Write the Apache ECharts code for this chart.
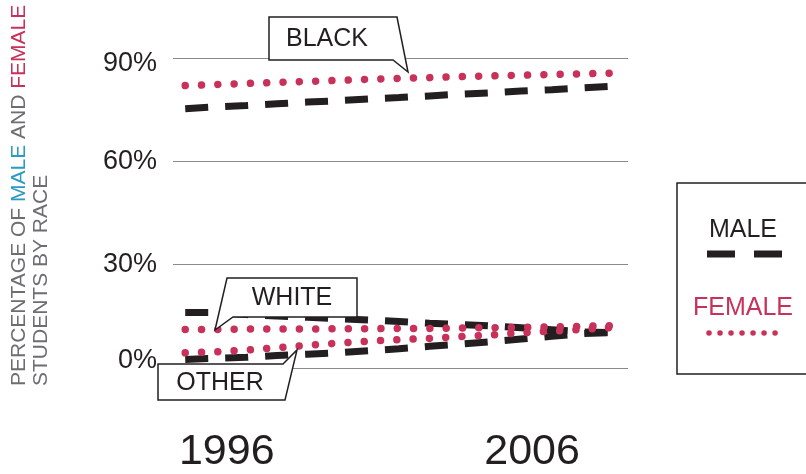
<!DOCTYPE html>
<html>
<head>
<meta charset="utf-8">
<script src="https://cdn.jsdelivr.net/npm/echarts@6/dist/echarts.min.js"></script>
<style>
html,body{margin:0;padding:0;background:#fff;}
#chart{width:806px;height:474px;}
</style>
</head>
<body>
<div id="chart"></div>
<script>
var years = [1995,1996,1997,1998,1999,2000,2001,2002,2003,2004,2005,2006,2007,2008,2009];
var blackFemale = [82.0,82.3,82.6,82.9,83.2,83.5,83.8,84.1,84.3,84.6,84.8,85.0,85.2,85.4,85.6];
var blackMale   = [75.3,75.8,76.2,76.7,77.2,77.6,78.1,78.5,79.0,79.5,79.9,80.4,80.8,81.3,81.8];
var whiteFemale = [11.2,11.2,11.3,11.3,11.3,11.4,11.4,11.5,11.5,11.6,11.7,11.8,11.9,12.1,12.3];
var whiteMale   = [16.1,16.1,15.5,15.1,14.7,14.3,13.9,13.5,13.0,12.6,12.2,11.7,11.1,10.5,10.3];
var otherFemale = [4.4,4.7,5.2,5.9,6.6,7.2,7.8,8.2,8.6,9.1,9.6,10.2,10.7,11.2,11.8];
var otherMale   = [2.5,2.8,3.1,3.6,4.0,4.4,5.0,5.6,6.3,6.9,7.6,8.4,9.2,10.0,10.3];
var xTickLabels = [1996, 2006];
var yTicks = [0, 30, 60, 90];

var INK = '#231f20';
var CRIMSON = '#c8325a';
var BLUE = '#2b9bc3';
var GRAYTXT = '#6d6e71';
var FONT = '"Liberation Sans", Arial, sans-serif';

function pairs(ys){ return years.map(function(y,i){ return [y, ys[i]]; }); }

function maleSeries(name, ys){
  return {
    name: name, type: 'line', data: pairs(ys), symbol: 'none', silent: true, z: 2,
    lineStyle: { color: INK, width: 7, type: [23, 17], cap: 'butt' }
  };
}
function femaleSeries(name, ys){
  return {
    name: name, type: 'line', data: pairs(ys), symbol: 'none', silent: true, z: 3,
    lineStyle: { color: CRIMSON, width: 7.5, type: [0.01, 16.3], cap: 'round' }
  };
}

function callout(points, tx, ty, label){
  return [
    { type: 'polygon', z: 100, shape: { points: points },
      style: { fill: '#fff', stroke: INK, lineWidth: 1.5 } },
    { type: 'text', z: 101, x: tx, y: ty,
      style: { text: label, fill: INK, font: '25px ' + FONT, align: 'center', verticalAlign: 'middle' } }
  ];
}

var chart = echarts.init(document.getElementById('chart'), null, { renderer: 'canvas' });

var graphics = [];
graphics = graphics.concat(callout([[269,17],[397,17],[408,72],[393,60],[269,60]], 327, 39, 'BLACK'));
graphics = graphics.concat(callout([[227,278],[357,278],[357,317],[233,317],[215,330]], 292, 298, 'WHITE'));
graphics = graphics.concat(callout([[158,364],[283,364],[297,350],[285,400],[158,400]], 220, 383, 'OTHER'));
// legend box
graphics.push({ type: 'rect', z: 100, shape: { x: 677, y: 183, width: 140, height: 191 },
  style: { fill: '#fff', stroke: INK, lineWidth: 1.5 } });
graphics.push({ type: 'text', z: 101, x: 743, y: 230,
  style: { text: 'MALE', fill: INK, font: '25px ' + FONT, align: 'center', verticalAlign: 'middle' } });
graphics.push({ type: 'line', z: 101, shape: { x1: 707, y1: 254, x2: 782, y2: 254 },
  style: { stroke: INK, lineWidth: 7, lineDash: [28, 19] } });
graphics.push({ type: 'text', z: 101, x: 743, y: 308,
  style: { text: 'FEMALE', fill: CRIMSON, font: '25px ' + FONT, align: 'center', verticalAlign: 'middle' } });
graphics.push({ type: 'line', z: 101, shape: { x1: 709, y1: 333, x2: 786, y2: 333 },
  style: { stroke: CRIMSON, lineWidth: 5.5, lineDash: [0.01, 11], lineCap: 'round' } });
// rotated axis title
graphics.push({ type: 'text', z: 101, x: 8, y: 386, rotation: Math.PI / 2,
  style: {
    text: '{a|PERCENTAGE OF }{b|MALE}{a| AND }{c|FEMALE}\n{a|STUDENTS BY RACE}',
    align: 'left', verticalAlign: 'top',
    rich: {
      a: { fill: GRAYTXT, font: '21px ' + FONT, lineHeight: 22 },
      b: { fill: BLUE, font: '21px ' + FONT, lineHeight: 22 },
      c: { fill: CRIMSON, font: '21px ' + FONT, lineHeight: 22 }
    }
  } });

chart.setOption({
  animation: false,
  backgroundColor: '#fff',
  grid: { left: 173, right: 178, top: 58, bottom: 101 },
  xAxis: {
    type: 'value', min: 1994.6, max: 2009.5,
    axisLine: { show: false }, axisTick: { show: false }, splitLine: { show: false },
    axisLabel: {
      customValues: xTickLabels,
      formatter: function(v){ return String(v); },
      color: INK, fontSize: 43, fontFamily: FONT, margin: 63, padding: [0, 0, 0, 22]
    }
  },
  yAxis: {
    type: 'value', min: 0, max: 90, interval: 30,
    axisLine: { show: false }, axisTick: { show: false },
    splitLine: { show: true, lineStyle: { color: '#8a8a8a', width: 1 } },
    axisLabel: {
      color: INK, fontSize: 27, fontFamily: FONT, margin: 16,
      formatter: function(v){
        if (v === 0) return '{lo|' + v + '%}';
        if (v === 90) return '{hi|' + v + '%}';
        return v + '%';
      },
      rich: {
        lo: { fontSize: 27, fontFamily: FONT, color: INK, padding: [0, 0, 14, 0] },
        hi: { fontSize: 27, fontFamily: FONT, color: INK, padding: [12, 0, 0, 0] }
      }
    }
  },
  series: [
    maleSeries('Black male', blackMale),
    maleSeries('White male', whiteMale),
    maleSeries('Other male', otherMale),
    femaleSeries('Black female', blackFemale),
    femaleSeries('White female', whiteFemale),
    femaleSeries('Other female', otherFemale)
  ],
  graphic: graphics
});
</script>
</body>
</html>
